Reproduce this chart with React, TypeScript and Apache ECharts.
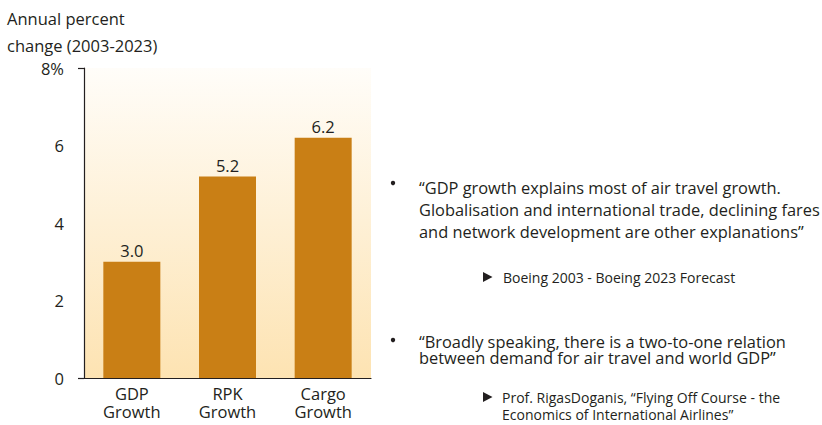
import React, { useEffect, useRef } from "react";
import * as echarts from "echarts";

const categories = ["GDP\nGrowth", "RPK\nGrowth", "Cargo\nGrowth"];
const growthValues = [3.0, 5.2, 6.2];
const yTicks = [0, 2, 4, 6, 8];
const axisTitle = ["Annual percent", "change (2003-2023)"];
const quote1 = [
  "\u201CGDP growth explains most of air travel growth.",
  "Globalisation and international trade, declining fares",
  "and network development are other explanations\u201D",
];
const source1 = ["Boeing 2003 - Boeing 2023 Forecast"];
const quote2 = [
  "\u201CBroadly speaking, there is a two-to-one relation",
  "between demand for air travel and world GDP\u201D",
];
const source2 = [
  "Prof. RigasDoganis, \u201CFlying Off Course - the",
  "Economics of International Airlines\u201D",
];

const FONT = "'Open Sans', 'Noto Sans', sans-serif";
const TXT = "#231f20";

export default function App() {
  const ref = useRef<HTMLDivElement>(null);
  useEffect(() => {
    if (!ref.current) return;
    const chart = echarts.init(ref.current, undefined, { renderer: "svg" });
    const yMax = yTicks[yTicks.length - 1];
    const txt = (x: number, y: number, lines: string[], fontSize: number, lineHeight: number) => ({
      type: "text",
      x,
      y,
      style: {
        text: lines.join("\n"),
        fontSize,
        lineHeight,
        fill: TXT,
        fontFamily: FONT,
      },
    });
    const tri = (x: number, y: number) => ({
      type: "polygon",
      shape: { points: [[x, y - 5], [x, y + 5], [x + 9.5, y]] },
      style: { fill: TXT },
    });
    chart.setOption({
      animation: false,
      backgroundColor: "#ffffff",
      textStyle: { fontFamily: FONT, color: TXT },
      grid: {
        left: 84,
        top: 68,
        right: 451,
        bottom: 47,
        show: true,
        borderWidth: 0,
        backgroundColor: new echarts.graphic.LinearGradient(0, 0, 0, 1, [
          { offset: 0, color: "#fffdf9" },
          { offset: 1, color: "#fde3b2" },
        ]),
      },
      xAxis: {
        type: "category",
        data: categories,
        axisLine: { show: true, lineStyle: { color: "#231f20", width: 1.2 } },
        axisTick: { show: false },
        axisLabel: {
          color: TXT,
          fontSize: 16.5,
          lineHeight: 18.5,
          margin: 6,
          fontFamily: FONT,
        },
      },
      yAxis: [
        {
          type: "value",
          min: 0,
          max: yMax,
          interval: 2,
          axisLine: { show: true, lineStyle: { color: "#231f20", width: 1.2 } },
          axisTick: { show: false },
          splitLine: { show: false },
          axisLabel: {
            color: TXT,
            fontSize: 16.5,
            margin: 20,
            fontFamily: FONT,
            formatter: (v: number) => (v === yMax ? v + "%" : String(v)),
          },
        },
        {
          type: "value",
          position: "left",
          min: 0,
          max: yMax,
          interval: yMax,
          axisLine: { show: false },
          axisTick: { show: true, length: 6, lineStyle: { color: "#231f20", width: 1.2 } },
          axisLabel: { show: false },
          splitLine: { show: false },
        },
      ],
      series: [
        {
          type: "bar",
          data: growthValues,
          barWidth: 57,
          itemStyle: { color: "#c97f15" },
          label: {
            show: true,
            position: "top",
            distance: 3,
            color: TXT,
            fontSize: 16.5,
            fontFamily: FONT,
            formatter: (p: any) => Number(p.value).toFixed(1),
          },
        },
      ],
      graphic: [
        txt(7, 4.5, axisTitle, 16.5, 27),
        { type: "circle", shape: { cx: 393, cy: 183, r: 2.2 }, style: { fill: TXT } },
        txt(419, 176, quote1, 16.4, 22),
        tri(483, 277),
        txt(503, 269, source1, 14, 16),
        { type: "circle", shape: { cx: 393, cy: 340, r: 2.2 }, style: { fill: TXT } },
        txt(419, 333, quote2, 16.4, 16),
        tri(483, 397),
        txt(502, 388.5, source2, 14, 17),
      ],
    });
    return () => chart.dispose();
  }, []);
  return (
    <div
      ref={ref}
      style={{ position: "fixed", left: 0, top: 0, width: 822, height: 425 }}
    />
  );
}
